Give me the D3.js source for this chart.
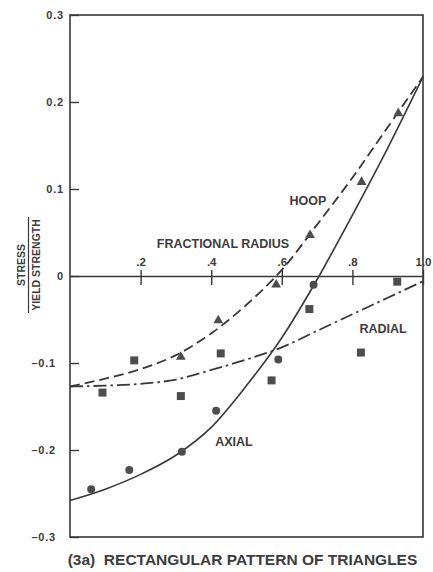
<!DOCTYPE html>
<html>
<head>
<meta charset="utf-8">
<script src="https://cdnjs.cloudflare.com/ajax/libs/d3/7.8.5/d3.min.js"></script>
<style>
  body { margin: 0; background: #ffffff; }
  text { font-family: "Liberation Sans", Arial, sans-serif; font-weight: bold; fill: #3c3c3c; }
</style>
</head>
<body>
<div id="chart"></div>
<script>
// data
var curveRadius = [0, 0.1, 0.2, 0.3, 0.4, 0.5, 0.6, 0.7, 0.8, 0.9, 1.0];
var axialCurve  = [-0.258, -0.245, -0.228, -0.206, -0.174, -0.126, -0.071, -0.004, 0.070, 0.147, 0.229];
var hoopCurve   = [-0.127, -0.118, -0.107, -0.091, -0.066, -0.033, 0.007, 0.059, 0.113, 0.171, 0.229];
var radialCurve = [-0.127, -0.126, -0.124, -0.119, -0.108, -0.096, -0.082, -0.063, -0.044, -0.025, -0.006];

var axialPtR   = [0.06, 0.168, 0.317, 0.414, 0.59, 0.69];
var axialPtS   = [-0.245, -0.223, -0.202, -0.155, -0.096, -0.010];
var hoopPtR    = [0.314, 0.42, 0.584, 0.68, 0.826, 0.93];
var hoopPtS    = [-0.093, -0.051, -0.010, 0.047, 0.108, 0.187];
var radialPtR  = [0.092, 0.182, 0.314, 0.427, 0.571, 0.678, 0.824, 0.927];
var radialPtS  = [-0.134, -0.097, -0.138, -0.089, -0.120, -0.038, -0.088, -0.0065];

var xTicks = [0.2, 0.4, 0.6, 0.8, 1.0];
var xTickLabels = [".2", ".4", ".6", ".8", "1.0"];
var yTicks = [0.3, 0.2, 0.1, 0, -0.1, -0.2, -0.3];
var yTickLabels = ["0.3", "0.2", "0.1", "0", "\u20130.1", "\u20130.2", "\u20130.3"];

var svgWidth = 433;
var svgHeight = 572;

var margin = { top: 15, right: 10, bottom: 35, left: 70 };
var width = svgWidth - margin.left - margin.right;
var height = svgHeight - margin.top - margin.bottom;

var ink = "#383838";

var svg = d3.select("#chart")
  .append("svg")
  .attr("width", svgWidth)
  .attr("height", svgHeight);

var chartGroup = svg.append("g")
  .attr("transform", `translate(${margin.left}, ${margin.top})`);

var xScale = d3.scaleLinear().domain([0, 1]).range([0, width]);
var yScale = d3.scaleLinear().domain([-0.3, 0.3]).range([height, 0]);

// frame
chartGroup.append("rect")
  .attr("x", 0)
  .attr("y", 0)
  .attr("width", width)
  .attr("height", height)
  .attr("fill", "none")
  .attr("stroke", ink)
  .attr("stroke-width", 1.6);

// left axis, ticks pointing inward
var leftAxis = d3.axisLeft(yScale)
  .tickValues(yTicks)
  .tickFormat((d, i) => yTickLabels[i])
  .tickSizeInner(-9)
  .tickSizeOuter(0)
  .tickPadding(6);

var yAxis = chartGroup.append("g").call(leftAxis);
yAxis.select(".domain").remove();
yAxis.selectAll("line").attr("stroke", ink).attr("stroke-width", 1.4);
yAxis.selectAll("text")
  .attr("font-size", "11px")
  .attr("letter-spacing", "0.8px")
  .attr("fill", ink)
  .attr("dx", d => d < 0 ? -8 : 0);

// zero line with crossing ticks, labels above
var topAxis = d3.axisTop(xScale)
  .tickValues(xTicks)
  .tickFormat((d, i) => xTickLabels[i])
  .tickSizeInner(6)
  .tickSizeOuter(0)
  .tickPadding(4);

var xAxis = chartGroup.append("g")
  .attr("transform", `translate(0, ${yScale(0)})`)
  .call(topAxis);
xAxis.select(".domain").attr("stroke", ink).attr("stroke-width", 1.6);
xAxis.selectAll("line").attr("y1", 9).attr("stroke", ink).attr("stroke-width", 1.4);
xAxis.selectAll("text")
  .attr("font-size", "11.5px")
  .attr("fill", ink);

// curves
var line = d3.line()
  .x(d => xScale(d[0]))
  .y(d => yScale(d[1]))
  .curve(d3.curveMonotoneX);

function pairs(xs, ys) {
  return xs.map((x, i) => [x, ys[i]]);
}

chartGroup.append("path")
  .attr("d", line(pairs(curveRadius, axialCurve)))
  .attr("fill", "none")
  .attr("stroke", ink)
  .attr("stroke-width", 1.6);

chartGroup.append("path")
  .attr("d", line(pairs(curveRadius, hoopCurve)))
  .attr("fill", "none")
  .attr("stroke", ink)
  .attr("stroke-width", 1.8)
  .attr("stroke-dasharray", "10,5");

chartGroup.append("path")
  .attr("d", line(pairs(curveRadius, radialCurve)))
  .attr("fill", "none")
  .attr("stroke", ink)
  .attr("stroke-width", 1.8)
  .attr("stroke-dasharray", "13,4,2.5,4");

// markers
var markFill = "#4d4d4d";

chartGroup.selectAll(".axial-pt")
  .data(pairs(axialPtR, axialPtS))
  .enter()
  .append("path")
  .attr("class", "axial-pt")
  .attr("transform", d => `translate(${xScale(d[0])}, ${yScale(d[1])})`)
  .attr("d", d3.symbol().type(d3.symbolCircle).size(50))
  .attr("fill", markFill);

chartGroup.selectAll(".hoop-pt")
  .data(pairs(hoopPtR, hoopPtS))
  .enter()
  .append("path")
  .attr("class", "hoop-pt")
  .attr("transform", d => `translate(${xScale(d[0])}, ${yScale(d[1])})`)
  .attr("d", d3.symbol().type(d3.symbolTriangle).size(42))
  .attr("fill", markFill);

chartGroup.selectAll(".radial-pt")
  .data(pairs(radialPtR, radialPtS))
  .enter()
  .append("path")
  .attr("class", "radial-pt")
  .attr("transform", d => `translate(${xScale(d[0])}, ${yScale(d[1])})`)
  .attr("d", d3.symbol().type(d3.symbolSquare).size(64))
  .attr("fill", markFill);

// curve names
chartGroup.append("text")
  .attr("x", 238)
  .attr("y", 190)
  .attr("text-anchor", "middle")
  .attr("font-size", "12.5px")
  .text("HOOP");

chartGroup.append("text")
  .attr("x", 313)
  .attr("y", 318)
  .attr("text-anchor", "middle")
  .attr("font-size", "12.5px")
  .text("RADIAL");

chartGroup.append("text")
  .attr("x", 164)
  .attr("y", 431)
  .attr("text-anchor", "middle")
  .attr("font-size", "12.5px")
  .text("AXIAL");

chartGroup.append("text")
  .attr("x", 153)
  .attr("y", 233)
  .attr("text-anchor", "middle")
  .attr("font-size", "12.5px")
  .text("FRACTIONAL RADIUS");

// y title as a fraction
var yTitle = svg.append("g")
  .attr("transform", "translate(0, 265) rotate(-90)");

yTitle.append("text")
  .attr("x", 0)
  .attr("y", 25)
  .attr("text-anchor", "middle")
  .attr("font-size", "10.5px")
  .text("STRESS");

yTitle.append("line")
  .attr("x1", -48)
  .attr("x2", 48)
  .attr("y1", 28.5)
  .attr("y2", 28.5)
  .attr("stroke", ink)
  .attr("stroke-width", 1.2);

yTitle.append("text")
  .attr("x", 0)
  .attr("y", 40)
  .attr("text-anchor", "middle")
  .attr("font-size", "10.5px")
  .text("YIELD STRENGTH");

// caption
svg.append("text")
  .attr("x", 242.5)
  .attr("y", 565)
  .attr("text-anchor", "middle")
  .attr("font-size", "15.5px")
  .style("white-space", "pre")
  .text("(3a)  RECTANGULAR PATTERN OF TRIANGLES");
</script>
</body>
</html>
